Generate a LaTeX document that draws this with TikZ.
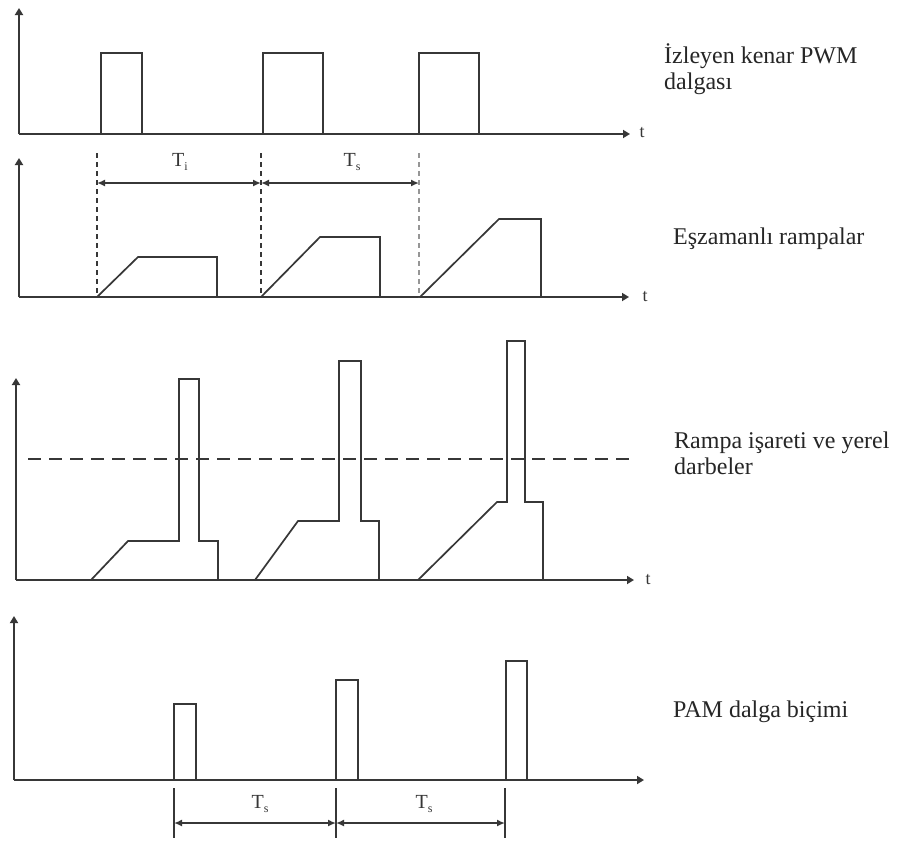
\documentclass[tikz,border=0pt]{standalone}
\usepackage{fontspec}
\setmainfont{Liberation Serif}
\usetikzlibrary{arrows.meta}
\definecolor{lc}{RGB}{55,55,55}
\definecolor{lg}{RGB}{150,150,150}
\newcommand{\Tlab}[1]{T{\fontsize{12}{12}\selectfont\raisebox{-3.5pt}{#1}}}
\begin{document}
\begin{tikzpicture}[x=1pt,y=-1pt,
  sig/.style={draw=lc, line width=1.7pt, line join=miter},
  axisline/.style={draw=lc, line width=1.7pt, -{Triangle[length=7pt,width=8pt]}},
  dimline/.style={draw=lc, line width=1.6pt, {Latex[length=8pt,width=7pt]}-{Latex[length=8pt,width=7pt]}},
  tick/.style={draw=lc, line width=1.6pt},
  vdash/.style={draw=lc, line width=1.6pt, dash pattern=on 5pt off 4pt},
  hdash/.style={draw=lc, line width=1.5pt, dash pattern=on 13pt off 8pt},
  tlabel/.style={font=\fontsize{18}{18}\selectfont, text=lc, inner sep=0pt},
  Tlabel/.style={font=\fontsize{20}{20}\selectfont, text=lc, inner sep=0pt},
  caption/.style={font=\fontsize{24}{26}\selectfont, align=left, anchor=base west, inner sep=0pt, text=black!85}
]
\fill[white] (0,0) rectangle (902,841);
\useasboundingbox (0,0) rectangle (902,841);

% ---------- panel 1 ----------
\coordinate (o1) at (19,134);
\coordinate (y1) at (19,8);
\coordinate (x1) at (630,134);
\draw[axisline] (o1) -- (y1);
\draw[axisline] (o1) -- (x1);
\node[tlabel] (t1) at (642,133) {t};
\draw[sig] (101,134) -- (101,53) -- (142,53) -- (142,134);
\draw[sig] (263,134) -- (263,53) -- (323,53) -- (323,134);
\draw[sig] (419,134) -- (419,53) -- (479,53) -- (479,134);
\node[caption] (c1) at (664,89) {İzleyen kenar PWM\\dalgası};

% ---------- panel 2 ----------
\coordinate (o2) at (19,297);
\coordinate (y2) at (19,158);
\coordinate (x2) at (629,297);
\draw[axisline] (o2) -- (y2);
\draw[axisline] (o2) -- (x2);
\node[tlabel] (t2) at (645,297) {t};
\coordinate (da1) at (97,153);  \coordinate (db1) at (97,297);
\coordinate (da2) at (261,153); \coordinate (db2) at (261,297);
\coordinate (da3) at (419,153); \coordinate (db3) at (419,297);
\draw[vdash] (da1) -- (db1);
\draw[vdash] (da2) -- (db2);
\draw[vdash, draw=lg] (da3) -- (db3);
\coordinate (m1) at (97,183);
\coordinate (m2) at (261,183);
\coordinate (m3) at (419,183);
\draw[dimline] (m1) -- (m2);
\draw[dimline] (m2) -- (m3);
\node[Tlabel] (T1) at (180,162) {\Tlab{i}};
\node[Tlabel] (T2) at (352,162) {\Tlab{s}};
\draw[sig] (97,297) -- (138,257) -- (217,257) -- (217,297);
\draw[sig] (261,297) -- (320,237) -- (380,237) -- (380,297);
\draw[sig] (420,297) -- (499,219) -- (541,219) -- (541,297);
\node[caption] (c2) at (673,244) {Eşzamanlı rampalar};

% ---------- panel 3 ----------
\coordinate (o3) at (16,580);
\coordinate (y3) at (16,378);
\coordinate (x3) at (634,580);
\draw[axisline] (o3) -- (y3);
\draw[axisline] (o3) -- (x3);
\node[tlabel] (t3) at (648,580) {t};
\coordinate (h1) at (28,459);
\coordinate (h2) at (635,459);
\draw[hdash] (h1) -- (h2);
\draw[sig] (91,580) -- (128,541) -- (179,541) -- (179,379) -- (199,379) -- (199,541) -- (218,541) -- (218,580);
\draw[sig] (255,580) -- (298,521) -- (339,521) -- (339,361) -- (361,361) -- (361,521) -- (379,521) -- (379,580);
\draw[sig] (418,580) -- (497,502) -- (507,502) -- (507,341) -- (525,341) -- (525,502) -- (543,502) -- (543,580);
\node[caption] (c3) at (674,474) {Rampa işareti ve yerel\\darbeler};

% ---------- panel 4 ----------
\coordinate (o4) at (14,780);
\coordinate (y4) at (14,616);
\coordinate (x4) at (644,780);
\draw[axisline] (o4) -- (y4);
\draw[axisline] (o4) -- (x4);
\draw[sig] (174,780) -- (174,704) -- (196,704) -- (196,780);
\draw[sig] (336,780) -- (336,680) -- (358,680) -- (358,780);
\draw[sig] (506,780) -- (506,661) -- (527,661) -- (527,780);
\coordinate (k1a) at (174,788); \coordinate (k1b) at (174,838);
\coordinate (k2a) at (336,788); \coordinate (k2b) at (336,838);
\coordinate (k3a) at (505,788); \coordinate (k3b) at (505,838);
\draw[tick] (k1a) -- (k1b);
\draw[tick] (k2a) -- (k2b);
\draw[tick] (k3a) -- (k3b);
\coordinate (n1) at (174,823);
\coordinate (n2) at (336,823);
\coordinate (n3) at (505,823);
\draw[dimline] (n1) -- (n2);
\draw[dimline] (n2) -- (n3);
\node[Tlabel] (T3) at (260,804) {\Tlab{s}};
\node[Tlabel] (T4) at (424,804) {\Tlab{s}};
\node[caption] (c4) at (673,717) {PAM dalga biçimi};
\end{tikzpicture}
\end{document}
